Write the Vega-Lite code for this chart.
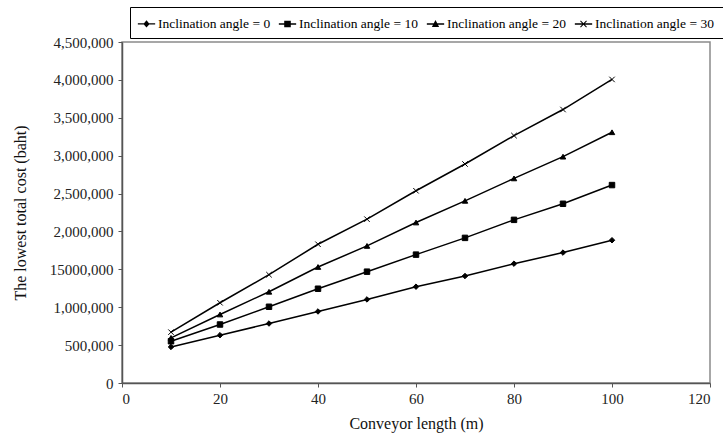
{
  "$schema": "https://vega.github.io/schema/vega-lite/v6.json",
  "width": 588,
  "height": 341,
  "autosize": {"type": "none"},
  "padding": {"left": 122, "top": 42, "right": 13, "bottom": 55},
  "background": "white",
  "config": {
    "font": "Liberation Serif",
    "view": {"stroke": "#8a8a8a", "strokeWidth": 1.5},
    "axis": {
      "grid": false,
      "domainColor": "#555",
      "domainWidth": 1.5,
      "tickColor": "#555",
      "tickSize": 4,
      "labelFont": "Liberation Serif",
      "labelFontSize": 15,
      "labelColor": "#222",
      "titleFont": "Liberation Serif",
      "titleFontSize": 16,
      "titleFontWeight": "normal",
      "titleColor": "#111"
    }
  },
  "data": {
    "values": [
      {"L": 10, "cost": 476000, "series": "Inclination  angle = 0"},
      {"L": 20, "cost": 631000, "series": "Inclination  angle = 0"},
      {"L": 30, "cost": 785000, "series": "Inclination  angle = 0"},
      {"L": 40, "cost": 944000, "series": "Inclination  angle = 0"},
      {"L": 50, "cost": 1103000, "series": "Inclination  angle = 0"},
      {"L": 60, "cost": 1271000, "series": "Inclination  angle = 0"},
      {"L": 70, "cost": 1412000, "series": "Inclination  angle = 0"},
      {"L": 80, "cost": 1575000, "series": "Inclination  angle = 0"},
      {"L": 90, "cost": 1721000, "series": "Inclination  angle = 0"},
      {"L": 100, "cost": 1884000, "series": "Inclination  angle = 0"},
      {"L": 10, "cost": 551000, "series": "Inclination  angle = 10"},
      {"L": 20, "cost": 772000, "series": "Inclination  angle = 10"},
      {"L": 30, "cost": 1006000, "series": "Inclination  angle = 10"},
      {"L": 40, "cost": 1244000, "series": "Inclination  angle = 10"},
      {"L": 50, "cost": 1469000, "series": "Inclination  angle = 10"},
      {"L": 60, "cost": 1694000, "series": "Inclination  angle = 10"},
      {"L": 70, "cost": 1915000, "series": "Inclination  angle = 10"},
      {"L": 80, "cost": 2153000, "series": "Inclination  angle = 10"},
      {"L": 90, "cost": 2365000, "series": "Inclination  angle = 10"},
      {"L": 100, "cost": 2612000, "series": "Inclination  angle = 10"},
      {"L": 10, "cost": 596000, "series": "Inclination  angle = 20"},
      {"L": 20, "cost": 904000, "series": "Inclination  angle = 20"},
      {"L": 30, "cost": 1204000, "series": "Inclination  angle = 20"},
      {"L": 40, "cost": 1531000, "series": "Inclination  angle = 20"},
      {"L": 50, "cost": 1809000, "series": "Inclination  angle = 20"},
      {"L": 60, "cost": 2118000, "series": "Inclination  angle = 20"},
      {"L": 70, "cost": 2404000, "series": "Inclination  angle = 20"},
      {"L": 80, "cost": 2700000, "series": "Inclination  angle = 20"},
      {"L": 90, "cost": 2987000, "series": "Inclination  angle = 20"},
      {"L": 100, "cost": 3309000, "series": "Inclination  angle = 20"},
      {"L": 10, "cost": 671000, "series": "Inclination  angle = 30"},
      {"L": 20, "cost": 1059000, "series": "Inclination  angle = 30"},
      {"L": 30, "cost": 1429000, "series": "Inclination  angle = 30"},
      {"L": 40, "cost": 1831000, "series": "Inclination  angle = 30"},
      {"L": 50, "cost": 2162000, "series": "Inclination  angle = 30"},
      {"L": 60, "cost": 2537000, "series": "Inclination  angle = 30"},
      {"L": 70, "cost": 2890000, "series": "Inclination  angle = 30"},
      {"L": 80, "cost": 3265000, "series": "Inclination  angle = 30"},
      {"L": 90, "cost": 3609000, "series": "Inclination  angle = 30"},
      {"L": 100, "cost": 4006000, "series": "Inclination  angle = 30"}
    ]
  },
  "encoding": {
    "x": {
      "field": "L",
      "type": "quantitative",
      "scale": {"domain": [0, 120], "nice": false},
      "axis": {"values": [0, 20, 40, 60, 80, 100, 120], "title": "Conveyor length (m)", "labelPadding": 4, "titlePadding": 9}
    },
    "y": {
      "field": "cost",
      "type": "quantitative",
      "scale": {"domain": [0, 4500000], "nice": false},
      "axis": {
        "values": [0, 500000, 1000000, 1500000, 2000000, 2500000, 3000000, 3500000, 4000000, 4500000],
        "labelExpr": "datum.value == 1500000 ? '15000,000' : format(datum.value, ',')",
        "title": "The lowest total cost (baht)",
        "labelPadding": 5,
        "titlePadding": 21
      }
    }
  },
  "resolve": {"scale": {"shape": "independent"}, "legend": {"shape": "independent"}},
  "layer": [
    {
      "mark": {"type": "line", "color": "black", "strokeWidth": 1.5},
      "encoding": {"detail": {"field": "series"}}
    },
    {
      "mark": {"type": "point", "filled": true, "fill": "black", "stroke": "black", "strokeWidth": 1, "opacity": 1},
      "encoding": {
        "shape": {
          "field": "series",
          "type": "nominal",
          "scale": {
            "domain": ["Inclination  angle = 0", "Inclination  angle = 10", "Inclination  angle = 20", "Inclination  angle = 30"],
            "range": ["diamond", "square", "triangle-up", "M-1,-1L1,1M-1,1L1,-1"]
          },
          "legend": null
        },
        "size": {"value": 30}
      }
    },
    {
      "transform": [{"filter": "false"}],
      "mark": {"type": "point", "filled": true, "fill": "black", "opacity": 1},
      "encoding": {
        "shape": {
          "field": "series",
          "type": "nominal",
          "scale": {
            "domain": ["Inclination  angle = 0", "Inclination  angle = 10", "Inclination  angle = 20", "Inclination  angle = 30"],
            "range": [
              "M-1,-0.08L1,-0.08L1,0.08L-1,0.08ZM0,-0.42L0.36,0L0,0.42L-0.36,0Z",
              "M-1,-0.08L1,-0.08L1,0.08L-1,0.08ZM-0.38,-0.38L0.38,-0.38L0.38,0.38L-0.38,0.38Z",
              "M-1,-0.08L1,-0.08L1,0.08L-1,0.08ZM0,-0.45L0.42,0.35L-0.42,0.35Z",
              "M-1,-0.08L1,-0.08L1,0.08L-1,0.08ZM-0.39,-0.31L-0.31,-0.39L0.39,0.31L0.31,0.39ZM0.31,-0.39L0.39,-0.31L-0.31,0.39L-0.39,0.31Z"
            ]
          },
          "legend": {
            "title": null,
            "orient": "none",
            "legendX": 8,
            "legendY": -35,
            "direction": "horizontal",
            "strokeColor": "black",
            "fillColor": "white",
            "padding": 7,
            "columnPadding": 1,
            "labelOffset": 2,
            "labelFont": "Liberation Serif",
            "labelFontSize": 13.5,
            "labelColor": "black",
            "labelLimit": 300,
            "symbolSize": 300,
            "symbolFillColor": "black",
            "symbolOpacity": 1
          }
        }
      }
    }
  ]
}
